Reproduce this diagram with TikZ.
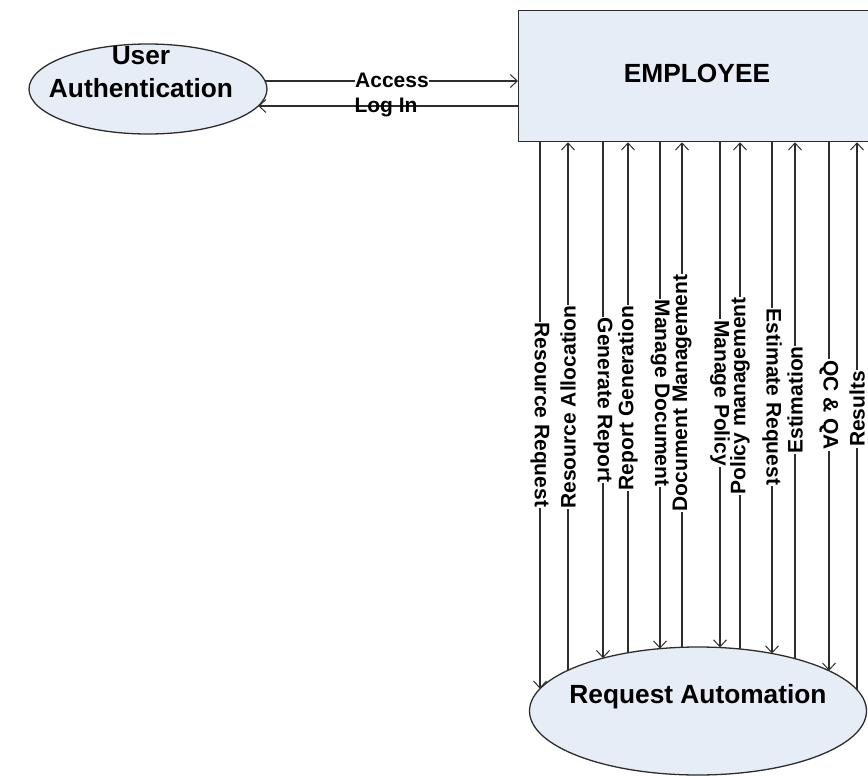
\documentclass[tikz,border=0pt]{standalone}
\usepackage{fontspec}
\setmainfont{Liberation Sans}
\usetikzlibrary{shapes.geometric,arrows.meta,intersections}
\definecolor{shapefill}{RGB}{231,237,247}
\definecolor{edgecol}{RGB}{45,45,45}
\begin{document}
\begin{tikzpicture}[x=1pt,y=-1pt,
  shapebox/.style={draw=edgecol,line width=1.3pt,fill=shapefill,inner sep=0pt},
  flow/.style={draw=edgecol,line width=1.1pt,-{Straight Barb[length=7pt,width=13pt,line width=1pt]}},
  lbl/.style={font=\bfseries\fontsize{21}{25}\selectfont,fill=white,inner sep=0.6pt},
  titletext/.style={font=\bfseries\fontsize{26.3}{33}\selectfont,inner sep=0pt},
]
\useasboundingbox (0,0) rectangle (868,776);

% shapes
\node[shapebox,rectangle,minimum width=359pt,minimum height=131pt,anchor=north west] (emp) at (518,10) {};
\node[titletext,anchor=base] (emptext) at (697,83) {EMPLOYEE};

\node[shapebox,ellipse,minimum width=337pt,minimum height=128pt,name path=raP] (ra) at (698,711) {};
\node[titletext,anchor=base] (ratext) at (698,703) {Request Automation};

\node[shapebox,ellipse,minimum width=238pt,minimum height=90pt,name path=uaP] (ua) at (148,89) {};
\node[titletext,align=center] (uatext) at (141,72.5) {User\\Authentication};

% horizontal flows
\path[name path=hA] (148,81) -- (518,81);
\path[name path=hB] (148,106) -- (518,106);
\path[name intersections={of=uaP and hA,by={ia}}];
\path[name intersections={of=uaP and hB,by={ib}}];
\draw[flow] (ia) -- (emp.west |- ia);
\draw[flow] (emp.west |- ib) -- (ib);
\node[lbl] (access) at (392,80) {Access};
\node[lbl,fill=none] (login) at (386,107.5) {Log In};

% vertical flows
\foreach \x/\cy/\dir/\t [count=\i] in {
  540/415/d/Resource Request,
  568/407/u/Resource Allocation,
  603/400/d/Generate Report,
  628/398/u/Report Generation,
  660/393/d/Manage Document,
  682/393/u/Document Management,
  720/393/d/Manage Policy,
  740/396/u/Policy management,
  772/397/d/Estimate Request,
  795/400/u/Estimation,
  829/405/d/QC \& QA,
  857/409/u/Results}{
  \path[name path=v\i] (\x,141) -- (\x,711);
  \path[name intersections={of=raP and v\i,by={e\i}}];
  \if\dir d
    \draw[flow] (emp.south -| e\i) -- (e\i);
    \node[lbl,rotate=-90] (l\i) at (\x,\cy) {\t};
  \else
    \draw[flow] (e\i) -- (emp.south -| e\i);
    \node[lbl,rotate=90] (l\i) at (\x,\cy) {\t};
  \fi
}
\end{tikzpicture}
\end{document}
